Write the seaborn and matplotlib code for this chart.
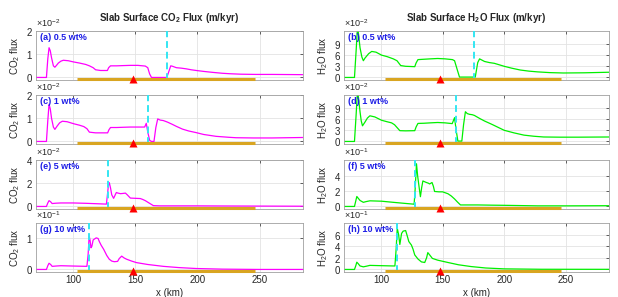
import numpy as np
import pandas as pd
import matplotlib
matplotlib.use("Agg")
import matplotlib.pyplot as plt
import seaborn as sns

# ---------------- data ----------------
x_ticks = [100, 150, 200, 250]
x_limits = (70, 285)
arc_range = [103, 246]        # orange bar extent (km)
marker_x = 148                # red triangle position (km)
front_x = [175.5, 160.5, 128, 113]   # cyan dashed lines per row

labels_co2 = ["(a) 0.5 wt%", "(c) 1 wt%", "(e) 5 wt%", "(g) 10 wt%"]
labels_h2o = ["(b) 0.5 wt%", "(d) 1 wt%", "(f) 5 wt%", "(h) 10 wt%"]

# CO2 flux, 0.5 wt% (x1e-2)
co2_05_x = [70, 78.4, 79.5, 80.5, 81.5, 82.5, 84, 85.2, 86.5, 88, 90, 92, 96, 100, 105, 110, 113, 116, 118, 122,
            127.5, 128.5, 130, 135, 140, 146, 152, 158, 160, 161.5, 163, 170, 175, 176, 178.5, 180, 183, 187, 191,
            195, 199, 205, 212, 220, 226, 235, 247, 260, 285]
co2_05_y = [0, 0, 0.8, 1.28, 1.15, 0.85, 0.5, 0.44, 0.52, 0.62, 0.7, 0.74, 0.72, 0.67, 0.62, 0.56, 0.5, 0.42, 0.33,
            0.3, 0.3, 0.42, 0.5, 0.5, 0.51, 0.52, 0.52, 0.49, 0.42, 0.15, 0.0, 0, 0, 0.1, 0.5, 0.48, 0.42, 0.4, 0.37,
            0.33, 0.3, 0.26, 0.22, 0.18, 0.16, 0.14, 0.13, 0.13, 0.12]
# CO2 flux, 1 wt% (x1e-2)
co2_1_x = [70, 78.4, 79.5, 80.5, 81.5, 82.5, 84, 85.2, 87, 89, 91.2, 95, 100.5, 105, 108.5, 111, 113, 118, 124,
           127.7, 128.7, 130, 135, 140, 146, 152, 157.5, 158.8, 160, 161.5, 163, 165, 166.5, 168, 170, 172.5, 176,
           180, 183, 188, 193, 199, 205, 215, 225, 231, 245, 260, 285]
co2_1_y = [0, 0, 0.9, 1.6, 1.4, 1.0, 0.62, 0.52, 0.66, 0.8, 0.87, 0.85, 0.76, 0.7, 0.64, 0.55, 0.4, 0.37, 0.37,
           0.37, 0.5, 0.6, 0.6, 0.61, 0.62, 0.62, 0.62, 0.78, 0.4, 0.05, 0.0, 0.0, 0.6, 0.97, 0.92, 0.9, 0.83,
           0.73, 0.65, 0.53, 0.45, 0.38, 0.3, 0.22, 0.18, 0.16, 0.15, 0.15, 0.17]
# CO2 flux, 5 wt% (x1e-2)
co2_5_x = [70, 78.4, 79.5, 80.5, 81.8, 83, 86, 90, 100, 110, 120, 126.7, 127.5, 128.3, 129, 130, 131, 132.5, 133.8,
           134.7, 136, 138, 140, 142, 143.5, 146, 150, 154, 156, 158, 161, 164.5, 170, 178, 190, 199, 220, 250, 285]
co2_5_y = [0, 0, 0.3, 0.5, 0.4, 0.25, 0.28, 0.3, 0.3, 0.27, 0.23, 0.2, 1.0, 1.8, 2.05, 1.6, 1.0, 0.7, 1.0, 1.2,
           1.15, 1.1, 1.12, 1.15, 1.0, 0.72, 0.7, 0.68, 0.6, 0.5, 0.3, 0.07, 0.05, 0.05, 0.05, 0.05, 0.04, 0.03, 0.02]
# CO2 flux, 10 wt% (x1e-1)
co2_10_x = [70, 78.4, 79.5, 80.5, 81.8, 83, 86, 90, 100, 111, 112, 112.8, 113.5, 114.3, 115, 116, 117, 118.5, 120,
            121, 122.5, 124.5, 127, 129, 131, 133, 135.7, 137, 139, 141, 143, 147, 151, 160, 172.5, 185, 199, 220,
            250, 285]
co2_10_y = [0, 0, 0.12, 0.2, 0.16, 0.1, 0.11, 0.12, 0.11, 0.1, 0.5, 1.08, 0.95, 0.7, 0.75, 0.95, 0.98, 1.02, 1.0,
            0.9, 0.78, 0.65, 0.45, 0.33, 0.27, 0.25, 0.26, 0.35, 0.43, 0.37, 0.33, 0.27, 0.22, 0.16, 0.1, 0.06,
            0.03, 0.01, 0.0, 0.0]

# H2O flux, 0.5 wt% (x1e-2)
h2o_05_x = [70, 78.5, 79.8, 81, 82, 83, 84.5, 85.7, 87, 88.5, 90, 92.5, 96, 100.5, 105, 110, 113, 116, 120, 127.4,
            128.5, 130, 135, 140, 146, 152, 158, 159.7, 161.5, 163.7, 170, 175, 176.5, 178.5, 180, 184, 188, 192,
            196, 200, 206, 213, 220, 227, 237, 248, 265, 285]
h2o_05_y = [0, 0, 7, 14, 11, 8, 5.5, 4.5, 5.2, 5.8, 6.4, 7.0, 6.8, 6.0, 5.6, 5.0, 4.5, 3.2, 3.0, 2.9, 3.9, 4.8,
            4.9, 5.0, 5.1, 5.0, 4.8, 4.5, 2.5, 0.1, 0.1, 0.1, 0.1, 4.0, 5.0, 4.3, 4.0, 3.8, 3.4, 3.0, 2.5, 2.0, 1.7,
            1.5, 1.3, 1.2, 1.25, 1.4]
# H2O flux, 1 wt% (x1e-2)
h2o_1_x = [70, 78.5, 79.8, 81, 82, 83, 84, 85, 87, 89, 91, 95, 100.5, 105, 108.6, 111, 115.3, 120, 127.4, 128.5,
           130, 135, 140, 146, 152, 157.8, 159.7, 161, 162.4, 165.6, 167, 168.5, 170, 171.8, 174, 175.8, 180, 184,
           190, 195, 200, 208, 216, 224, 232, 245, 260, 285]
h2o_1_y = [0, 0, 7, 14, 11, 8, 5.5, 4.2, 5.2, 6.3, 6.9, 6.6, 5.7, 5.3, 5.0, 4.5, 2.9, 2.85, 2.9, 3.9, 4.85, 4.9,
           5.0, 5.1, 5.0, 4.8, 6.4, 3.0, 0.1, 0.1, 4.5, 8.0, 7.5, 7.3, 7.2, 7.0, 6.2, 5.5, 4.6, 3.8, 3.0, 2.3, 1.7,
           1.4, 1.2, 1.15, 1.15, 1.2]
# H2O flux, 5 wt% (x1e-1)
h2o_5_x = [70, 78.5, 79.5, 80.4, 81.5, 83, 85.7, 88, 91, 100.5, 110, 120, 126.9, 127.8, 128.8, 129.8, 131, 132, 133,
           134, 136.8, 138.5, 139.5, 141.4, 142.5, 143.5, 147, 150, 154.3, 157, 159.7, 162, 164.5, 170, 178.5, 190,
           200, 227, 250, 285]
h2o_5_y = [0, 0, 0.7, 1.33, 1.1, 0.8, 0.55, 0.65, 0.75, 0.7, 0.55, 0.4, 0.3, 2.5, 5.7, 4.0, 2.5, 1.3, 2.5, 3.4,
           3.2, 3.1, 3.0, 3.2, 2.7, 2.0, 1.95, 1.95, 1.7, 1.4, 1.0, 0.6, 0.2, 0.2, 0.2, 0.17, 0.15, 0.08, 0.08, 0.1]
# H2O flux, 10 wt% (x1e-1)
h2o_10_x = [70, 78.5, 79.5, 80.4, 81.5, 83, 85.7, 88, 91, 100, 110, 111.3, 112.3, 113.2, 114.3, 115.3, 116.7, 118,
            120, 121, 122.6, 124.7, 126, 127.4, 130, 132.8, 135.5, 137, 138, 139.5, 141.7, 146, 154.3, 163, 173,
            185, 200, 230, 285]
h2o_10_y = [0, 0, 0.6, 1.25, 1.0, 0.6, 0.45, 0.55, 0.7, 0.65, 0.6, 0.6, 3.5, 7.1, 6.0, 4.3, 6.2, 6.6, 6.7, 6.0,
            4.8, 4.2, 3.5, 2.5, 1.8, 1.3, 1.2, 2.0, 2.9, 2.5, 1.9, 1.6, 1.2, 0.8, 0.5, 0.25, 0.1, 0.03, 0.02]

co2_scale = [1e-2, 1e-2, 1e-2, 1e-1]
h2o_scale = [1e-2, 1e-2, 1e-1, 1e-1]
co2_ylim_top = [2, 2, 4, 1.5]
h2o_ylim_top = [12.5, 12.5, 6.2, 8.0]
co2_yticks = [[0, 1, 2], [0, 1, 2], [0, 2, 4], [0, 1]]
h2o_yticks = [[0, 3, 6, 9], [0, 3, 6, 9], [0, 2, 4], [0, 2, 4, 6]]

co2_series = [(co2_05_x, co2_05_y), (co2_1_x, co2_1_y), (co2_5_x, co2_5_y), (co2_10_x, co2_10_y)]
h2o_series = [(h2o_05_x, h2o_05_y), (h2o_1_x, h2o_1_y), (h2o_5_x, h2o_5_y), (h2o_10_x, h2o_10_y)]

# ---------------- style ----------------
sns.set_theme(style="white")
plt.rcParams["font.family"] = ["Liberation Sans", "DejaVu Sans"]
plt.rcParams["mathtext.fontset"] = "custom"
plt.rcParams["mathtext.rm"] = "Liberation Sans"
plt.rcParams["mathtext.bf"] = "Liberation Sans:bold"

TXT = "#262626"
fig = plt.figure(figsize=(6.18, 2.97), dpi=100)

col_left = [36 / 618, 344 / 618]
col_width = [267 / 618, 265 / 618]
row_top_px = [31, 95, 160, 223]
ax_h_px = 49


def draw_panel(ax, xs, ys, scale, color, ytop, yticks, label, ylabel, fx, bottom):
    df = pd.DataFrame({"x": xs, "y": np.array(ys) * scale})
    sns.lineplot(data=df, x="x", y="y", ax=ax, color=color, lw=0.9, estimator=None, sort=False)
    ymin = -0.055 * ytop * scale
    ax.set_xlim(*x_limits)
    ax.set_ylim(ymin, ytop * scale)
    ax.axvline(fx, color="#33E6F2", lw=1.4, ls=(0, (3.5, 2)), zorder=3)
    ybar = -0.035 * ytop * scale
    ax.plot(arc_range, [ybar, ybar], color="#D9A521", lw=2.2, solid_capstyle="butt", clip_on=False, zorder=4)
    ax.plot([marker_x], [ybar], marker="^", color="#FF0000", ms=6, clip_on=False, zorder=5, mec="none")
    ax.set_xticks(x_ticks)
    ax.set_yticks(np.array(yticks) * scale)
    ax.ticklabel_format(axis="y", style="sci", scilimits=(0, 0), useMathText=True)
    ax.yaxis.get_offset_text().set_fontsize(6.5)
    ax.yaxis.get_offset_text().set_color("#555555")
    ax.grid(True, color="#E3E3E3", lw=0.6)
    ax.tick_params(axis="both", direction="in", length=2, width=0.5, labelsize=7, colors=TXT,
                   top=True, right=True, pad=2)
    if not bottom:
        ax.set_xticklabels([])
    for s in ax.spines.values():
        s.set_color("#A0A0A0")
        s.set_linewidth(0.6)
    ax.set_xlabel("")
    ax.set_ylabel(ylabel, fontsize=7, color=TXT, labelpad=3)
    ax.text(0.015, 0.86, label, transform=ax.transAxes, fontsize=6.5, fontweight="bold",
            color="#1E1EE6", va="center", ha="left")


for r in range(4):
    bottom_frac = 1 - (row_top_px[r] + ax_h_px) / 297
    h = ax_h_px / 297
    axl = fig.add_axes([col_left[0], bottom_frac, col_width[0], h])
    axr = fig.add_axes([col_left[1], bottom_frac, col_width[1], h])
    draw_panel(axl, co2_series[r][0], co2_series[r][1], co2_scale[r], "#FF00FF", co2_ylim_top[r],
               co2_yticks[r], labels_co2[r], r"CO$_2$ flux", front_x[r], r == 3)
    draw_panel(axr, h2o_series[r][0], h2o_series[r][1], h2o_scale[r], "#00F000", h2o_ylim_top[r],
               h2o_yticks[r], labels_h2o[r], r"H$_2$O flux", front_x[r], r == 3)
    if r == 0:
        axl.set_title(r"Slab Surface CO$_\mathbf{2}$ Flux (m/kyr)", fontsize=7, fontweight="bold", pad=7)
        axr.set_title(r"Slab Surface H$_\mathbf{2}$O Flux (m/kyr)", fontsize=7, fontweight="bold", pad=7)
    if r == 3:
        axl.set_xlabel("x (km)", fontsize=7, color=TXT, labelpad=2)
        axr.set_xlabel("x (km)", fontsize=7, color=TXT, labelpad=2)

fig.savefig("out.png", dpi=100)
